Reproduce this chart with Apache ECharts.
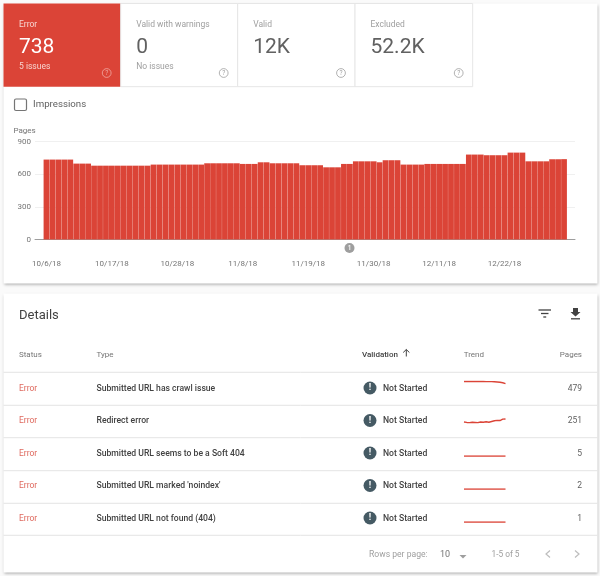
<!DOCTYPE html>
<html lang="en">
<head>
<meta charset="UTF-8">
<title>Index coverage</title>
<style>
  html, body { margin: 0; padding: 0; background: #fafafa; }
  #main { width: 600px; height: 576px; }
</style>
</head>
<body>
<div id="main"></div>
<script src="https://cdn.jsdelivr.net/npm/echarts@6/dist/echarts.min.js"></script>
<script>
// chart data
var dates = [
  '10/6/18','10/7/18','10/8/18','10/9/18','10/10/18','10/11/18','10/12/18','10/13/18','10/14/18','10/15/18','10/16/18',
  '10/17/18','10/18/18','10/19/18','10/20/18','10/21/18','10/22/18','10/23/18','10/24/18','10/25/18','10/26/18','10/27/18',
  '10/28/18','10/29/18','10/30/18','10/31/18','11/1/18','11/2/18','11/3/18','11/4/18','11/5/18','11/6/18','11/7/18',
  '11/8/18','11/9/18','11/10/18','11/11/18','11/12/18','11/13/18','11/14/18','11/15/18','11/16/18','11/17/18','11/18/18',
  '11/19/18','11/20/18','11/21/18','11/22/18','11/23/18','11/24/18','11/25/18','11/26/18','11/27/18','11/28/18','11/29/18',
  '11/30/18','12/1/18','12/2/18','12/3/18','12/4/18','12/5/18','12/6/18','12/7/18','12/8/18','12/9/18','12/10/18',
  '12/11/18','12/12/18','12/13/18','12/14/18','12/15/18','12/16/18','12/17/18','12/18/18','12/19/18','12/20/18','12/21/18',
  '12/22/18','12/23/18','12/24/18','12/25/18','12/26/18','12/27/18','12/28/18','12/29/18','12/30/18','12/31/18','1/1/19'
];
var pages = [
  734,734,734,734,734,697,697,697,678,678,678,678,678,678,678,678,678,678,
  688,688,688,688,688,688,688,688,688,700,700,700,700,700,700,694,694,694,
  709,709,700,700,700,700,700,682,682,682,682,663,663,663,694,694,718,718,
  718,718,709,728,728,728,688,688,688,688,694,694,694,694,694,694,694,780,
  780,780,774,774,774,774,798,798,798,718,718,718,718,737,737,738
];
var yTicks = [0, 300, 600, 900];

var tiles = [
  { label: 'Error', value: '738', note: '5 issues' },
  { label: 'Valid with warnings', value: '0', note: 'No issues' },
  { label: 'Valid', value: '12K', note: '' },
  { label: 'Excluded', value: '52.2K', note: '' }
];

var issueTypes = [
  'Submitted URL has crawl issue',
  'Redirect error',
  'Submitted URL seems to be a Soft 404',
  "Submitted URL marked 'noindex'",
  'Submitted URL not found (404)'
];
var issuePages = [479, 251, 5, 2, 1];
var trends = [
  [492,492,492,492,492,492,492,492,491,491,491,490,489,487,484,479],
  [238,236,235,237,236,235,238,237,239,237,240,243,245,244,250,251],
  [5,5,5,5,5,5,5,5,5,5,5,5,5,5,5,5],
  [2,2,2,2,2,2,2,2,2,2,2,2,2,2,2,2],
  [1,1,1,1,1,1,1,1,1,1,1,1,1,1,1,1]
];
var trendRanges = [[470, 495], [225, 255], [0, 5], [0, 2], [0, 1]];
var trendTops = [381, 418, 456, 489, 522];
var trendHeights = [4, 7, 10, 10, 10];

var RED = '#db4437';
var FONT = 'Roboto, sans-serif';
var chart = echarts.init(document.getElementById('main'));

function txt(x, y, s, size, color, extra) {
  var style = { x: x, y: y + 0.7, text: s, font: (extra && extra.weight || 400) + ' ' + size + 'px ' + FONT,
    fill: color, textAlign: extra && extra.align || 'left', textVerticalAlign: 'middle' };
  return { type: 'text', style: style, z: 10, silent: true };
}
function box(x, y, w, h, fill, stroke, shadow) {
  var style = { fill: fill, stroke: stroke || null, lineWidth: stroke ? 1 : 0 };
  if (shadow) {
    style.shadowBlur = 3; style.shadowColor = 'rgba(0,0,0,0.35)'; style.shadowOffsetY = 1;
  }
  return { type: 'rect', shape: { x: x, y: y, width: w, height: h }, style: style, z: -1, silent: true };
}
function hline(x1, x2, y, color, width) {
  return { type: 'line', shape: { x1: x1, y1: y, x2: x2, y2: y }, style: { stroke: color, lineWidth: width || 1 }, z: 10, silent: true };
}
function poly(points, color) {
  return { type: 'polygon', shape: { points: points }, style: { fill: color }, z: 10, silent: true };
}
function stroke(points, color, width) {
  return { type: 'polyline', shape: { points: points }, style: { stroke: color, fill: 'none', lineWidth: width }, z: 10, silent: true };
}
function helpIcon(cx, cy, color) {
  return [
    { type: 'circle', shape: { cx: cx, cy: cy, r: 4.4 }, style: { fill: 'none', stroke: color, lineWidth: 0.8 }, z: 10, silent: true },
    txt(cx, cy - 0.4, '?', 6.5, color, { align: 'center' })
  ];
}

var g = [];
// cards
g.push(box(3.5, 3.5, 594, 280, '#fff', null, true));
g.push(box(3.5, 293.5, 594, 279, '#fff', null, true));

// status tiles
var tileX = [3.5, 120.7, 237.7, 355];
var tileW = [117.2, 117, 117.3, 117.7];
tiles.forEach(function (t, i) {
  var on = i === 0;
  g.push(box(tileX[i], 3.5, tileW[i], 83.2, on ? RED : '#fff', on ? null : '#e6e6e6'));
  var x = tileX[i] + 15.5;
  g.push(txt(x, 24, t.label, 8.5, on ? '#f7d5d1' : '#9e9e9e'));
  g.push(txt(x, 47, t.value, 21, on ? '#fff' : '#616161'));
  if (t.note) g.push(txt(x, 65.7, t.note, 8.5, on ? '#f7d5d1' : '#9e9e9e'));
  g = g.concat(helpIcon(tileX[i] + tileW[i] - 14, 73, on ? '#f0aaa3' : '#9e9e9e'));
});

// impressions toggle
g.push({ type: 'rect', shape: { x: 14.5, y: 99, width: 12, height: 11.5, r: 1.5 },
  style: { fill: '#fff', stroke: '#757575', lineWidth: 1.2 }, z: 5, silent: true });
g.push(txt(33, 104, 'Impressions', 9.7, '#616161'));
g.push(txt(13.5, 130.5, 'Pages', 8, '#757575'));

// annotation marker under the axis
g.push({ type: 'circle', shape: { cx: 349.5, cy: 248, r: 5 }, style: { fill: '#9e9e9e' }, z: 10, silent: true });
g.push(txt(349.5, 247.6, '1', 6.5, '#fff', { align: 'center', weight: 500 }));

// details table
g.push(txt(19, 315, 'Details', 13, '#424242'));
// filter icon
g.push(hline(538.5, 551, 310, '#424242', 1.3));
g.push(hline(541, 548.5, 313.5, '#424242', 1.3));
g.push(hline(543.3, 546.2, 317, '#424242', 1.3));
// download icon
g.push(poly([[573, 308], [578, 308], [578, 312], [580.5, 312], [575.5, 316.5], [570.5, 312], [573, 312]], '#424242'));
g.push(hline(571, 580, 318.8, '#424242', 1.3));
g.push(txt(19, 354, 'Status', 8, '#757575'));
g.push(txt(96.5, 354, 'Type', 8, '#757575'));
g.push(txt(362, 354, 'Validation', 8, '#424242', { weight: 500 }));
g.push(stroke([[403.2, 352.5], [406.3, 349.5], [409.4, 352.5]], '#424242', 1));
g.push(stroke([[406.3, 349.5], [406.3, 356.5]], '#424242', 1));
g.push(txt(463.7, 354, 'Trend', 8, '#757575'));
g.push(txt(582, 354, 'Pages', 8, '#757575', { align: 'right' }));

var rowLines = [372.3, 405.3, 437.7, 470.7, 503.3, 535.3];
rowLines.forEach(function (y) { g.push(hline(3.5, 597.5, y, '#e4e4e4')); });

var rowY = [388, 420.5, 453, 485.5, 518];
issueTypes.forEach(function (name, i) {
  var y = rowY[i];
  g.push(txt(19, y, 'Error', 8.5, '#df6a5f'));
  g.push(txt(96.5, y, name, 8.6, '#424242', { weight: 500 }));
  g.push({ type: 'circle', shape: { cx: 370, cy: y, r: 6.5 }, style: { fill: '#455a64' }, z: 10, silent: true });
  g.push(txt(370, y - 0.5, '!', 9, '#fff', { align: 'center', weight: 700 }));
  g.push(txt(383, y, 'Not Started', 8.6, '#424242', { weight: 500 }));
  g.push(txt(582, y, String(issuePages[i]), 8.5, '#616161', { align: 'right' }));
});

// footer
g.push(txt(369, 554.5, 'Rows per page:', 8.6, '#9e9e9e'));
g.push(txt(440, 554.5, '10', 9, '#757575'));
g.push(poly([[459.5, 555], [466.5, 555], [463, 558.5]], '#9e9e9e'));
g.push(txt(491.5, 554.5, '1-5 of 5', 8.3, '#9e9e9e'));
g.push(stroke([[550, 550.5], [546, 554], [550, 557.5]], '#bdbdbd', 1.2));
g.push(stroke([[575, 550.5], [579, 554], [575, 557.5]], '#bdbdbd', 1.2));

// grids: 0 carries the value axis and gridlines, 1 the bars, 2.. the trend lines
var grids = [
  { left: 35, top: 141.5, width: 540, height: 98 },
  { left: 43.5, top: 141.5, width: 523.5, height: 98 }
];
var xAxes = [
  { gridIndex: 0, type: 'category', data: [''], axisTick: { show: false }, axisLabel: { show: false },
    axisLine: { lineStyle: { color: '#9e9e9e', width: 1 } } },
  { gridIndex: 1, type: 'category', data: dates, axisTick: { show: false }, axisLine: { show: false },
    axisLabel: { interval: 10, margin: 20, fontSize: 8, fontFamily: FONT, color: '#757575', hideOverlap: false } }
];
var yAxes = [
  { gridIndex: 0, type: 'value', min: yTicks[0], max: yTicks[3], interval: yTicks[1],
    axisLine: { show: false }, axisTick: { show: false },
    axisLabel: { margin: 4, fontSize: 8, fontFamily: FONT, color: '#757575' },
    splitLine: { lineStyle: { color: '#f0f0f0', width: 1 } } },
  { gridIndex: 1, type: 'value', min: yTicks[0], max: yTicks[3], show: false }
];
var series = [
  { type: 'bar', xAxisIndex: 1, yAxisIndex: 1, data: pages, barCategoryGap: '3%', itemStyle: { color: RED } }
];
trends.forEach(function (vals, i) {
  grids.push({ left: 464, width: 41.5, top: trendTops[i], height: trendHeights[i] });
  xAxes.push({ gridIndex: i + 2, type: 'category', show: false, boundaryGap: false, data: vals.map(String) });
  yAxes.push({ gridIndex: i + 2, type: 'value', show: false, min: trendRanges[i][0], max: trendRanges[i][1] });
  series.push({ type: 'line', xAxisIndex: i + 2, yAxisIndex: i + 2, data: vals, showSymbol: false, silent: true,
    lineStyle: { color: RED, width: 1.4 }, z: 5 });
});

chart.setOption({
  animation: false,
  backgroundColor: '#fafafa',
  tooltip: { show: false },
  graphic: { elements: g },
  grid: grids,
  xAxis: xAxes,
  yAxis: yAxes,
  series: series
});
</script>
</body>
</html>
